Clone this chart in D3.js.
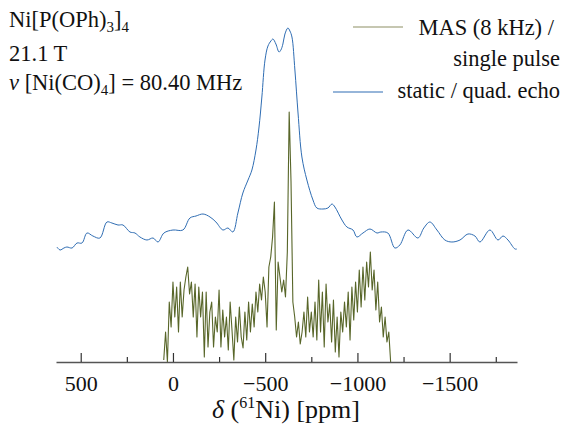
<!DOCTYPE html>
<html>
<head>
<meta charset="utf-8">
<script src="https://cdn.jsdelivr.net/npm/d3@7"></script>
<style>
  body { margin: 0; background: #fff; }
  svg text { font-family: "Liberation Serif", "Times New Roman", serif; fill: #111; }
</style>
</head>
<body>
<div id="chart"></div>
<script>
// static / quad. echo trace (ppm, intensity with stack offset)
const staticPpm = [629, 612, 591, 575, 547, 520, 493, 466, 434, 396, 358, 331, 298, 271, 233, 206, 179, 141, 108, 81, 49, 0,
  -54, -92, -125, -163, -201, -233, -271, -298, -325, -352, -379, -407, -428, -450, -466, -482, -499, -515, -531, -542,
  -558, -575, -585, -596, -607, -623, -634, -645, -661, -678, -699, -726, -759, -780, -813, -840, -862, -878, -916, -943,
  -976, -997, -1030, -1068, -1106, -1127, -1165, -1203, -1230, -1274, -1328, -1360, -1393, -1431, -1474, -1512, -1556,
  -1599, -1637, -1664, -1718, -1762, -1789, -1816, -1854, -1864];
const staticInt = [115, 112, 114, 115, 114, 119, 119, 129, 126, 124, 140, 139, 137, 137, 130, 129, 125, 122, 124, 120, 129, 132,
  132, 144, 146, 148, 145, 140, 132, 134, 130, 149, 169, 182, 192, 212, 234, 265, 302, 316, 321, 323,
  318, 310, 312, 318, 328, 334, 331, 325, 292, 249, 205, 182, 162, 154, 153, 154, 158, 155, 142, 135,
  132, 125, 129, 133, 129, 130, 129, 114, 117, 132, 124, 134, 140, 132, 122, 120, 122,
  128, 126, 120, 132, 122, 126, 122, 113, 113];

// MAS (8 kHz) / single pulse trace, sampled every 10 ppm from 50 ppm
const masStart = 50;
const masStep = -10;
const masInt = [2, 30, 0, 60, 35, 80, 45, 75, 30, 80, 45, 72, 85, 95, 68, 80, 45, 78, 25, 75,
  45, 70, 5, 70, 15, 50, 60, 15, 45, 30, 72, 15, 52, 25, 45, 12, 60, 32, 2, 45,
  20, 55, 25, 14, 50, 22, 60, 30, 58, 35, 70, 50, 78, 62, 85, 70, 35, 95, 105, 125,
  160, 32, 100, 85, 70, 82, 65, 110, 250, 180, 60, 45, 25, 40, 18, 30, 50, 25, 65, 30,
  50, 25, 60, 22, 82, 30, 70, 15, 78, 40, 58, 20, 62, 10, 45, 5, 50, 30, 60, 35,
  70, 22, 75, 42, 80, 50, 92, 55, 95, 62, 100, 75, 110, 72, 92, 52, 80, 40, 55, 25,
  45, 20, 30, 0];

const majorTicks = [500, 0, -500, -1000, -1500];
const minorTicks = [250, -250, -750, -1250, -1750];

const W = 564, H = 425;
const FONT = "'Liberation Serif', 'Times New Roman', serif";
const svg = d3.select("#chart").append("svg")
  .attr("width", W)
  .attr("height", H);

const x = d3.scaleLinear().domain([634, -1865]).range([56, 517]);
const y = d3.scaleLinear().domain([0, 340]).range([362, 22]);

// traces
const staticData = staticPpm.map((p, i) => [p, staticInt[i]]);
const masData = masInt.map((v, i) => [masStart + i * masStep, v]);

svg.append("path")
  .datum(masData)
  .attr("fill", "none")
  .attr("stroke", "#465512")
  .attr("stroke-width", 1.1)
  .attr("stroke-opacity", 0.9)
  .attr("stroke-linejoin", "round")
  .attr("d", d3.line().x(d => x(d[0])).y(d => y(d[1])));

svg.append("path")
  .datum(staticData)
  .attr("fill", "none")
  .attr("stroke", "#2f6db3")
  .attr("stroke-width", 1)
  .attr("d", d3.line().curve(d3.curveCatmullRom).x(d => x(d[0])).y(d => y(d[1])));

// axis
const axis = svg.append("g")
  .attr("transform", `translate(0,${y(0)})`)
  .call(d3.axisBottom(x).tickValues(majorTicks).tickFormat(d3.format("d"))
    .tickSizeInner(-9).tickSizeOuter(0).tickPadding(13));
axis.attr("font-family", null).attr("font-size", null);
axis.select(".domain").attr("stroke", "#555").attr("stroke-width", 1.5);
axis.selectAll(".tick line").attr("stroke", "#333").attr("stroke-width", 1.2);
axis.selectAll(".tick text")
  .style("font-family", FONT)
  .style("font-size", "22px")
  .attr("fill", "#111");

svg.append("g")
  .attr("transform", `translate(0,${y(0)})`)
  .call(d3.axisBottom(x).tickValues(minorTicks).tickSizeInner(-5).tickSizeOuter(0).tickFormat(""))
  .call(g => g.select(".domain").remove())
  .selectAll(".tick line").attr("stroke", "#333").attr("stroke-width", 1.2);

// axis title
const xt = svg.append("text")
  .attr("x", 286)
  .attr("y", 418)
  .attr("text-anchor", "middle")
  .style("font-size", "26px");
xt.append("tspan").attr("font-style", "italic").text("δ");
xt.append("tspan").text(" (");
xt.append("tspan").style("font-size", "16px").attr("dy", -10).text("61");
xt.append("tspan").attr("dy", 10).text("Ni) [ppm]");

// sample info
const t1 = svg.append("text").attr("x", 9).attr("y", 27).style("font-size", "22.5px");
t1.append("tspan").text("Ni[P(OPh)");
t1.append("tspan").style("font-size", "15px").attr("dy", 5).text("3");
t1.append("tspan").attr("dy", -5).text("]");
t1.append("tspan").style("font-size", "15px").attr("dy", 5).text("4");

svg.append("text").attr("x", 9).attr("y", 61).style("font-size", "22.5px").text("21.1 T");

const t3 = svg.append("text").attr("x", 9).attr("y", 90).style("font-size", "22.5px");
t3.append("tspan").attr("font-style", "italic").text("ν");
t3.append("tspan").text(" [Ni(CO)");
t3.append("tspan").style("font-size", "15px").attr("dy", 5).text("4");
t3.append("tspan").attr("dy", -5).text("] = 80.40 MHz");

// legend
const legend = svg.append("g");
legend.append("line")
  .attr("x1", 353).attr("x2", 403).attr("y1", 27).attr("y2", 27)
  .attr("stroke", "#c6c7b1").attr("stroke-width", 2);
legend.append("text").attr("x", 554).attr("y", 35).style("font-size", "22.5px")
  .attr("text-anchor", "end").text("MAS (8 kHz) /");
legend.append("text").attr("x", 560).attr("y", 66).style("font-size", "22.5px")
  .attr("text-anchor", "end").text("single pulse");
legend.append("line")
  .attr("x1", 333).attr("x2", 383).attr("y1", 92).attr("y2", 92)
  .attr("stroke", "#2f6db3").attr("stroke-width", 1.2);
legend.append("text").attr("x", 560).attr("y", 98).style("font-size", "22.5px")
  .attr("text-anchor", "end").text("static / quad. echo");
</script>
</body>
</html>
